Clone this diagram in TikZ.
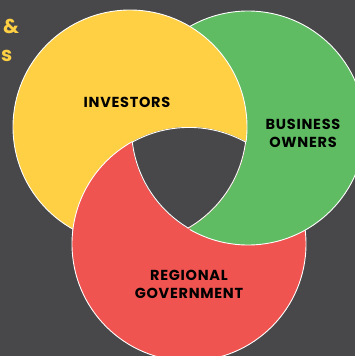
\documentclass[tikz,border=0pt]{standalone}
\usepackage{fontspec}
\setmainfont{Poppins}
\definecolor{bgc}{HTML}{48484A}
\definecolor{ycol}{HTML}{FFD044}
\definecolor{gcol}{HTML}{60BC63}
\definecolor{rcol}{HTML}{F05450}
\tikzset{
  ring/.style={draw=white, line width=0.9pt},
  lbl/.style={font=\fontsize{14.5}{18}\selectfont\bfseries\addfontfeatures{LetterSpace=5}, text=black, align=center, inner sep=0pt},
  side/.style={font=\fontsize{20}{22}\selectfont\bfseries, text=ycol, inner sep=0pt}
}
\begin{document}
\begin{tikzpicture}[x=1pt,y=-1pt]
\useasboundingbox (0,0) rectangle (355,356);
\fill[bgc] (0,0) rectangle (355,356);
\def\Yc{(130,127) circle[radius=117]}
\def\Gc{(248,128) circle[radius=117]}
\def\Rc{(189,244) circle[radius=117]}
% red, green
\fill[rcol] \Rc; \draw[ring] \Rc;
\fill[gcol] \Gc; \draw[ring] \Gc;
% yellow over green, outline only outside red
\fill[ycol] \Yc;
\begin{scope}[even odd rule]
  \clip (-10,-10) rectangle (365,366) \Rc;
  \draw[ring] \Yc;
\end{scope}
% red over yellow
\begin{scope}
  \clip (130,127) circle[radius=118.5];
  \begin{scope}[even odd rule]
    \clip (-10,-10) rectangle (365,366) (248,128) circle[radius=116];
    \fill[rcol] \Rc; \draw[ring] \Rc;
  \end{scope}
\end{scope}
% triple intersection
\begin{scope}
  \clip \Yc; \clip \Gc;
  \fill[bgc] \Rc;
  \clip \Rc;
  \draw[ring, line width=1.8pt] \Yc;
  \draw[ring, line width=1.8pt] \Gc;
  \draw[ring, line width=1.8pt] \Rc;
\end{scope}
\node[lbl] (inv) at (127,102) {INVESTORS};
\node[lbl] (bus) at (303,133.5) {BUSINESS\\OWNERS};
\node[lbl] (gov) at (189,284) {REGIONAL\\GOVERNMENT};
\node[side, anchor=west] (amp) at (3,26) {\&};
\node[side, anchor=west] (s) at (1,56) {s};
\end{tikzpicture}
\end{document}
